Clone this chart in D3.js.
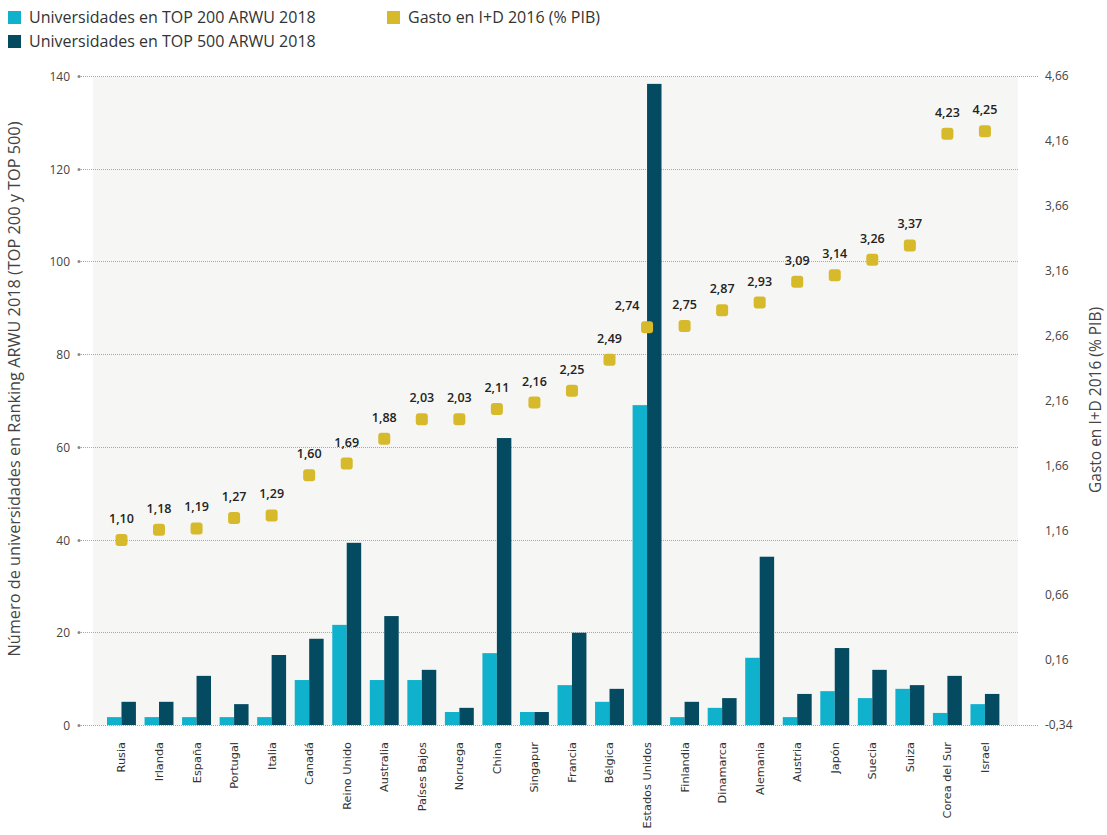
<!DOCTYPE html>
<html><head><meta charset="utf-8">
<script src="https://cdn.jsdelivr.net/npm/d3@7"></script>
<style>body{margin:0;background:#fff;} svg{display:block;}</style>
</head><body>
<svg id="chart" width="1107" height="835"></svg>
<script>
const countries = ["Rusia","Irlanda","España","Portugal","Italia","Canadá","Reino Unido","Australia","Países Bajos","Noruega","China","Singapur","Francia","Bélgica","Estados Unidos","Finlandia","Dinamarca","Alemania","Austria","Japón","Suecia","Suiza","Corea del Sur","Israel"];
const top200 = [1.7,1.7,1.7,1.7,1.7,9.7,21.6,9.7,9.7,2.8,15.5,2.8,8.6,5.0,69.0,1.7,3.7,14.5,1.7,7.3,5.8,7.8,2.6,4.5];
const top500 = [5.0,5.0,10.6,4.5,15.1,18.6,39.3,23.5,11.9,3.7,61.9,2.8,19.9,7.8,138.3,5.0,5.8,36.3,6.7,16.6,11.9,8.6,10.6,6.7];
const gasto = [1.10,1.18,1.19,1.27,1.29,1.60,1.69,1.88,2.03,2.03,2.11,2.16,2.25,2.49,2.74,2.75,2.87,2.93,3.09,3.14,3.26,3.37,4.23,4.25];
const leftTicks = [0,20,40,60,80,100,120,140];
const rightTicks = [-0.34,0.16,0.66,1.16,1.66,2.16,2.66,3.16,3.66,4.16,4.66];
const seriesNames = ["Universidades en TOP 200 ARWU 2018","Universidades en TOP 500 ARWU 2018","Gasto en I+D 2016 (% PIB)"];
const colors = ["#0fb1cd","#044a60","#d6ba2b"];

const svg = d3.select("#chart");
const font = "'Open Sans', sans-serif";
const plotL = 93, plotR = 1018, plotT = 76, plotB = 725;

const x0 = d3.scaleBand().domain(countries).range([102.7, 1003.7]).paddingInner(0.23).paddingOuter(0.115);
const x1 = d3.scaleBand().domain([0,1]).range([0, x0.bandwidth()]);
const yL = d3.scaleLinear().domain([0,140]).range([plotB, plotT]);
const yR = d3.scaleLinear().domain([-0.34,4.66]).range([plotB, plotT]);
const yDot = d3.scaleLinear().domain([-0.34,4.66]).range([plotB + 2, plotT + 2]);
const fmt = v => d3.format(".2f")(v).replace(".", ",").replace("−","-");

// background
svg.append("rect").attr("x", plotL).attr("y", plotT+1).attr("width", plotR-plotL).attr("height", plotB-plotT-1).attr("fill", "#f6f6f4");

// gridlines
const grid = svg.append("g");
leftTicks.forEach((t,i) => {
  const y = Math.round(yL(t)) + 0.5;
  const ext = (t === 0 || t === 140) ? 1038 : plotR;
  grid.append("line").attr("x1", 79).attr("x2", ext).attr("y1", y).attr("y2", y)
    .attr("stroke", "#a8a8a8").attr("stroke-width", 1).attr("stroke-dasharray", "1,1");
  grid.append("circle").attr("cx", 79).attr("cy", y).attr("r", 1.5).attr("fill", "#888");
  svg.append("text").attr("x", 70).attr("y", y).attr("dy", "0.35em").attr("text-anchor", "end")
    .attr("font-family", font).attr("font-size", 12).attr("fill", "#444").text(t);
});
rightTicks.forEach(t => {
  svg.append("text").attr("x", 1045).attr("y", yR(t)).attr("dy", "0.35em")
    .attr("font-family", font).attr("font-size", 12).attr("fill", "#444").text(fmt(t));
});

// bars
const bars = svg.append("g");
countries.forEach((c,i) => {
  [top200[i], top500[i]].forEach((v,k) => {
    bars.append("rect").attr("x", x0(c) + x1(k)).attr("width", x1.bandwidth())
      .attr("y", yL(v)).attr("height", yL(0) - yL(v)).attr("fill", colors[k]);
  });
});

// dots
countries.forEach((c,i) => {
  const cx = x0(c) + x0.bandwidth()/2, cy = yDot(gasto[i]);
  svg.append("rect").attr("x", cx-6).attr("y", cy-6).attr("width", 12).attr("height", 12).attr("rx", 3)
    .attr("fill", colors[2]);
  // if the tall bar would hide the label, move the label to the left of it
  const hidden = yL(top500[i]) < cy - 30;
  svg.append("text").attr("x", hidden ? cx - 20 : cx).attr("y", cy-17).attr("text-anchor", "middle")
    .attr("font-family", font).attr("font-size", 12.5).attr("font-weight", 600).attr("fill", "#222").text(fmt(gasto[i]));
});

// x labels
countries.forEach(c => {
  const cx = x0(c) + x0.bandwidth()/2;
  svg.append("text").attr("transform", `translate(${cx},742) rotate(-90)`).attr("dy", "0.35em")
    .attr("text-anchor", "end").attr("font-family", "'DejaVu Sans', sans-serif").attr("font-size", 11.3)
    .attr("fill", "#333").text(c);
});

// axis titles
svg.append("text").attr("transform", "translate(20,389) rotate(-90)").attr("text-anchor", "middle")
  .attr("font-family", font).attr("font-size", 16.3).attr("fill", "#444")
  .text("Número de universidades en Ranking ARWU 2018 (TOP 200 y TOP 500)");
svg.append("text").attr("transform", "translate(1101,400) rotate(-90)").attr("text-anchor", "middle")
  .attr("font-family", font).attr("font-size", 15.5).attr("fill", "#444")
  .text("Gasto en I+D 2016 (% PIB)");

// legend
const legendPos = [[8,11],[8,35],[387,11]];
seriesNames.forEach((n,i) => {
  const [lx, ly] = legendPos[i];
  svg.append("rect").attr("x", lx).attr("y", ly).attr("width", 13).attr("height", 13).attr("fill", colors[i]);
  svg.append("text").attr("x", lx+21).attr("y", ly+6.5).attr("dy", "0.35em")
    .attr("font-family", font).attr("font-size", 16).attr("fill", "#333").text(n);
});
</script>
</body></html>
